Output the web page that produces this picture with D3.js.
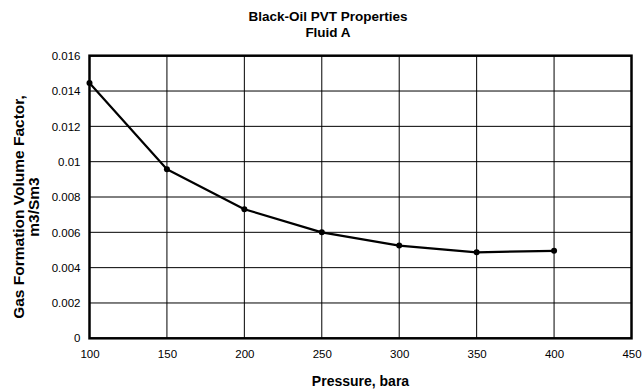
<!DOCTYPE html>
<html>
<head>
<meta charset="utf-8">
<script src="https://cdn.jsdelivr.net/npm/d3@7/dist/d3.min.js"></script>
<style>
  html, body { margin: 0; padding: 0; background: #fff; }
  svg { display: block; font-family: Arial, "Liberation Sans", sans-serif; }
</style>
</head>
<body>
<svg id="chart" width="644" height="392"></svg>
<script>
// Gas formation volume factor vs. pressure
const pressure = [100, 150, 200, 250, 300, 350, 400];
const bg = [0.01445, 0.00957, 0.00731, 0.00600, 0.00525, 0.00487, 0.00495];
const xTicks = [100, 150, 200, 250, 300, 350, 400, 450];
const yTicks = [0, 0.002, 0.004, 0.006, 0.008, 0.01, 0.012, 0.014, 0.016];
const yTickLabels = ["0", "0.002", "0.004", "0.006", "0.008", "0.01", "0.012", "0.014", "0.016"];

const svg = d3.select("#chart");
const plotLeft = 89.5, plotRight = 631.5, plotTop = 55.7, plotBottom = 338.3;

const x = d3.scaleLinear().domain([100, 450]).range([plotLeft, plotRight]);
const y = d3.scaleLinear().domain([0, 0.016]).range([plotBottom, plotTop]);

// Grid
const grid = svg.append("g");
grid.selectAll("line.v").data(xTicks.slice(1, -1)).join("line")
  .attr("x1", d => x(d)).attr("x2", d => x(d))
  .attr("y1", plotTop).attr("y2", plotBottom)
  .attr("stroke", "#000").attr("stroke-width", 1);
grid.selectAll("line.h").data(yTicks.slice(1, -1)).join("line")
  .attr("x1", plotLeft).attr("x2", plotRight)
  .attr("y1", d => y(d)).attr("y2", d => y(d))
  .attr("stroke", "#000").attr("stroke-width", 1);

// Frame
svg.append("rect")
  .attr("x", plotLeft).attr("y", plotTop)
  .attr("width", plotRight - plotLeft).attr("height", plotBottom - plotTop)
  .attr("fill", "none").attr("stroke", "#000").attr("stroke-width", 2.5);

// Axes labels
const xAxis = d3.axisBottom(x).tickValues(xTicks).tickSize(0).tickPadding(12);
const gx = svg.append("g").attr("transform", `translate(0,${plotBottom})`).call(xAxis);
gx.select(".domain").remove();
gx.selectAll("text").attr("font-size", 11.5).attr("fill", "#000")
  .attr("font-family", "Arial, 'Liberation Sans', sans-serif");

const yAxis = d3.axisLeft(y).tickValues(yTicks).tickSize(0).tickPadding(9)
  .tickFormat((d, i) => yTickLabels[i]);
const gy = svg.append("g").attr("transform", `translate(${plotLeft},0)`).call(yAxis);
gy.select(".domain").remove();
gy.selectAll("text").attr("font-size", 11.5).attr("fill", "#000")
  .attr("font-family", "Arial, 'Liberation Sans', sans-serif");

// Series
const line = d3.line().x((d, i) => x(pressure[i])).y(d => y(d));
svg.append("path").datum(bg)
  .attr("d", line).attr("fill", "none")
  .attr("stroke", "#000").attr("stroke-width", 2.2).attr("stroke-linejoin", "round");
svg.selectAll("circle.pt").data(bg).join("circle")
  .attr("cx", (d, i) => x(pressure[i])).attr("cy", d => y(d))
  .attr("r", 3).attr("fill", "#000");

// Titles
const title = svg.append("text").attr("x", 328).attr("text-anchor", "middle")
  .attr("font-size", 13.5).attr("font-weight", "bold");
title.append("tspan").attr("x", 328).attr("y", 21).text("Black-Oil PVT Properties");
title.append("tspan").attr("x", 328).attr("y", 37).text("Fluid A");

svg.append("text").attr("x", 360.5).attr("y", 386).attr("text-anchor", "middle")
  .attr("font-size", 14).attr("font-weight", "bold").text("Pressure, bara");

const yt = svg.append("text").attr("transform", "translate(0,207) rotate(-90)")
  .attr("text-anchor", "middle").attr("font-size", 15.5).attr("font-weight", "bold");
yt.append("tspan").attr("x", 0).attr("y", 23.5).text("Gas Formation Volume Factor,");
yt.append("tspan").attr("x", 0).attr("y", 39).text("m3/Sm3");
</script>
</body>
</html>
